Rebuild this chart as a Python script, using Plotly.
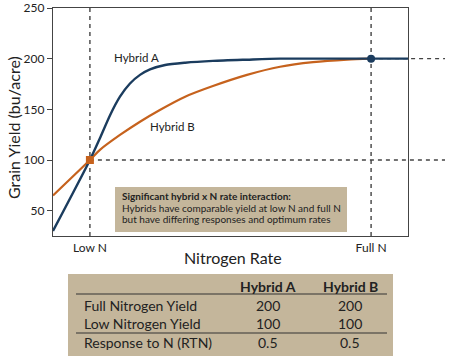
import plotly.graph_objects as go

# ---------------- data ----------------
hybrid_a_x = [-0.5, 10, 12.85, 15.7, 18.55, 21.4, 24.25, 27.1, 31.4, 37.1, 45, 54.7, 64.1, 90, 100.5]
hybrid_a_y = [30, 100, 121.5, 144, 162.5, 175.5, 184, 189.5, 193.8, 196, 197.8, 199, 200, 200, 200]

hybrid_b_x = [-0.5, 10, 12.85, 18.55, 24.25, 29.9, 37.1, 45, 54.7, 64.1, 73.5, 83.2, 90]
hybrid_b_y = [65, 100, 110, 124.7, 137.8, 149.4, 162.5, 173, 184, 192, 196.5, 199, 200]

x_tick_vals = [10, 90]
x_tick_text = ["Low N", "Full N"]
y_tick_vals = [50, 100, 150, 200, 250]

low_n = 10
full_n = 90
low_yield = 100
full_yield = 200

table_cols = ["Hybrid A", "Hybrid B"]
table_rows = ["Full Nitrogen Yield", "Low Nitrogen Yield", "Response to N (RTN)"]
table_hybrid_a = ["200", "100", "0.5"]
table_hybrid_b = ["200", "100", "0.5"]

# ---------------- style ----------------
BLUE = "#1b3c5e"
ORANGE = "#c6621d"
TAN = "#c4b69b"
FRAME = "#444444"
DASH = "#444444"
FONT = "Lato"

X0, X1 = -0.5, 100.5
Y0, Y1 = 25, 250

# plot area in pixels
PL, PR, PT, PB = 53, 408, 8, 236


def px_x(px):
    return (px - PL) / (PR - PL)


def px_y(py):
    return (PB - py) / (PB - PT)


def data_to_paper_x(u):
    return (u - X0) / (X1 - X0)


fig = go.Figure()

fig.add_trace(go.Scatter(x=hybrid_b_x, y=hybrid_b_y, mode="lines",
                         line=dict(color=ORANGE, width=2.2, shape="spline", smoothing=0.7),
                         hoverinfo="skip", showlegend=False))
fig.add_trace(go.Scatter(x=hybrid_a_x, y=hybrid_a_y, mode="lines",
                         line=dict(color=BLUE, width=2.4, shape="spline", smoothing=0.7),
                         hoverinfo="skip", showlegend=False))
fig.add_trace(go.Scatter(x=[low_n], y=[low_yield], mode="markers",
                         marker=dict(color=ORANGE, size=8, symbol="square"),
                         hoverinfo="skip", showlegend=False))
fig.add_trace(go.Scatter(x=[full_n], y=[full_yield], mode="markers",
                         marker=dict(color=BLUE, size=8, symbol="circle"),
                         hoverinfo="skip", showlegend=False))

shapes = []
dash = "4px,4px"
# vertical dashed lines
for u in (low_n, full_n):
    shapes.append(dict(type="line", xref="x", yref="y", x0=u, x1=u, y0=Y0, y1=Y1,
                       line=dict(color=DASH, width=1.4, dash=dash), layer="below"))
# horizontal dashed lines
right_end = px_x(445)
shapes.append(dict(type="line", xref="paper", yref="y", x0=data_to_paper_x(low_n), x1=right_end,
                   y0=low_yield, y1=low_yield, line=dict(color=DASH, width=1.4, dash=dash), layer="below"))
shapes.append(dict(type="line", xref="paper", yref="y", x0=data_to_paper_x(full_n), x1=right_end,
                   y0=full_yield, y1=full_yield, line=dict(color=DASH, width=1.4, dash=dash), layer="below"))
# info box
shapes.append(dict(type="rect", xref="paper", yref="paper", x0=px_x(115), x1=px_x(347),
                   y0=px_y(232), y1=px_y(187), fillcolor=TAN, line=dict(width=0), layer="above"))
# table box
shapes.append(dict(type="rect", xref="paper", yref="paper", x0=px_x(68), x1=px_x(393),
                   y0=px_y(360), y1=px_y(274), fillcolor=TAN, line=dict(width=0)))
shapes.append(dict(type="line", xref="paper", yref="paper", x0=px_x(76), x1=px_x(387),
                   y0=px_y(294), y1=px_y(294), line=dict(color="#333333", width=1)))
shapes.append(dict(type="line", xref="paper", yref="paper", x0=px_x(76), x1=px_x(387),
                   y0=px_y(333), y1=px_y(333), line=dict(color="#333333", width=1)))

annotations = []
# double-headed arrows
for px, col in ((419, BLUE), (436, ORANGE)):
    u = X0 + px_x(px) * (X1 - X0)
    annotations.append(dict(x=u, y=full_yield, xref="x", yref="y", ax=u, ay=low_yield,
                            axref="x", ayref="y", text="", showarrow=True,
                            arrowhead=2, startarrowhead=2, arrowside="end+start",
                            arrowsize=1, startarrowsize=1, arrowwidth=2, arrowcolor=col,
                            standoff=0, startstandoff=0))


def label(px, py, text, size, xanchor="center", angle=0):
    annotations.append(dict(x=px_x(px), y=px_y(py), xref="paper", yref="paper", text=text,
                            xanchor=xanchor, yanchor="middle", showarrow=False,
                            textangle=angle, font=dict(family=FONT, size=size, color="#222")))


label(136, 57, "Hybrid A", 11.5)
label(172, 126, "Hybrid B", 11.5)

box_lines = ["<b>Significant hybrid x N rate interaction:</b>",
             "Hybrids have comparable yield at low N and full N",
             "but have differing responses and optimum rates"]
for t, py in zip(box_lines, (196, 207.5, 219)):
    label(120, py, t, 10, xanchor="left")

# axis titles
label(13, 128, "Grain Yield (bu/acre)", 16, angle=-90)
label(233, 257, "Nitrogen Rate", 16)

# table
for col, cx in zip(table_cols, (268, 350)):
    label(cx, 286, "<b>" + col + "</b>", 14)
for lbl, va, vb, py in zip(table_rows, table_hybrid_a, table_hybrid_b, (305, 323, 342)):
    label(82, py, lbl, 14, xanchor="left")
    label(268, py, va, 14)
    label(350, py, vb, 14)

fig.update_layout(
    template="none",
    width=450, height=356, autosize=False,
    margin=dict(l=PL, r=450 - PR, t=PT, b=356 - PB, pad=0, autoexpand=False),
    paper_bgcolor="white", plot_bgcolor="white",
    font=dict(family=FONT, color="#222"),
    shapes=shapes, annotations=annotations,
    xaxis=dict(range=[X0, X1], tickvals=x_tick_vals, ticktext=x_tick_text, ticks="",
               showgrid=False, zeroline=False, showline=True, mirror=True, automargin=False,
               linecolor=FRAME, linewidth=1.2, tickfont=dict(family=FONT, size=12, color="#222"),
               fixedrange=True),
    yaxis=dict(range=[Y0, Y1], tickvals=y_tick_vals, ticks="outside", ticklen=5,
               tickcolor=FRAME, showgrid=False, zeroline=False, showline=True, mirror=True,
               automargin=False,
               linecolor=FRAME, linewidth=1.2, tickfont=dict(family=FONT, size=12, color="#222"),
               fixedrange=True),
)

fig.write_html("out.html", config={"displayModeBar": False},
               post_script="document.body.style.margin='0';document.body.style.overflow='hidden';")
